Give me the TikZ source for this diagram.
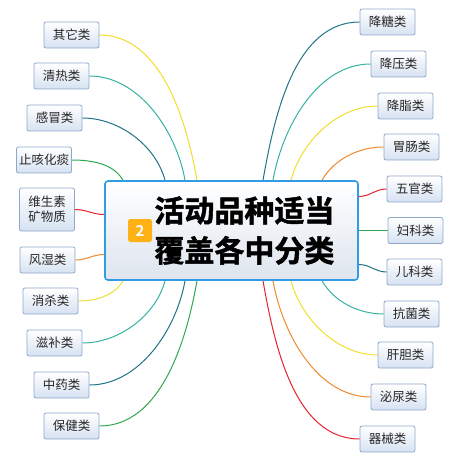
\documentclass[tikz,border=0pt]{standalone}
\usepackage{fontspec}
\usepackage{xcolor}
\usepackage{tikz}
\usetikzlibrary{positioning,calc,backgrounds}
\newfontfamily\cjk{Noto Sans CJK SC}[BoldFont={Noto Sans CJK SC Bold}]
\newfontfamily\cjkheavy{Noto Sans CJK SC Bold}[FakeBold=1.6]
\definecolor{sun}{HTML}{F2DE2E}
\definecolor{aqua}{HTML}{35B3A0}
\definecolor{petrol}{HTML}{1F7488}
\definecolor{leaf}{HTML}{2EA84E}
\definecolor{brick}{HTML}{E5232B}
\definecolor{amber}{HTML}{F0892A}
\definecolor{nodeedge}{HTML}{8EA8CB}
\definecolor{nodefill}{HTML}{D6E2F2}
\definecolor{hubedge}{HTML}{2F9CE4}
\definecolor{hubfill}{HTML}{DEE5EE}
\definecolor{badge}{HTML}{FFB116}

\tikzset{
  cat/.style={draw=nodeedge,line width=0.8pt,rounded corners=2pt,top color=white,bottom color=nodefill,
    minimum width=55pt,minimum height=26pt,inner sep=2pt,align=center,text=black!85,
    font=\cjk\fontsize{12.5}{15}\selectfont},
  hub/.style={draw=hubedge,line width=1.6pt,rounded corners=3pt,top color=white,bottom color=hubfill,
    minimum width=253pt,minimum height=99pt},
  link/.style={line width=1pt}
}

\begin{document}
\begin{tikzpicture}[x=1pt,y=1pt]
\useasboundingbox (0,0) rectangle (453,-462);
% centre topic
\node[hub] (hub) at (231.5,-230.5) {};
\node[fill=badge,rounded corners=2.5pt,minimum width=24pt,minimum height=23pt,inner sep=0pt,
  text=white,font=\cjk\bfseries\fontsize{15}{15}\selectfont] (num) at (140,-230.5) {2};
\node[right=2pt of num,align=left,inner sep=0pt,font=\cjkheavy\fontsize{30}{40}\selectfont] (title)
  {活动品种适当\\覆盖各中分类};

% left branches
\node[cat] (qita)  at (71.5,-35)  {其它类};
\node[cat] (qingre) at (61.5,-76) {清热类};
\node[cat] (ganmao) at (54.5,-118) {感冒类};
\node[cat] (zhike) at (44,-160)   {止咳化痰};
\node[cat,minimum height=43pt] (weisheng) at (47,-209.5) {维生素\\矿物质};
\node[cat] (fengshi) at (47.5,-260) {风湿类};
\node[cat] (xiaosha) at (50.5,-301) {消杀类};
\node[cat] (zibu)  at (54.5,-343) {滋补类};
\node[cat] (zhongyao) at (61.5,-385) {中药类};
\node[cat] (baojian) at (71.5,-426) {保健类};

% right branches
\node[cat] (jiangtang) at (387.5,-22) {降糖类};
\node[cat] (jiangya) at (398.5,-64)  {降压类};
\node[cat] (jiangzhi) at (405.5,-106) {降脂类};
\node[cat] (weichang) at (411.5,-147) {胃肠类};
\node[cat] (wuguan) at (414.5,-189) {五官类};
\node[cat] (fuke)  at (415.5,-230.5) {妇科类};
\node[cat] (erke)  at (414.5,-272) {儿科类};
\node[cat] (kangjun) at (411.5,-314) {抗菌类};
\node[cat] (gandan) at (405.5,-355) {肝胆类};
\node[cat] (miniao) at (398.5,-397) {泌尿类};
\node[cat] (qixie) at (387.5,-439) {器械类};

\begin{scope}[on background layer]
\draw[link,sun]    (qita.east)   to[out=0,in=100,looseness=0.9] ([xshift=-34.5pt]hub.north);
\draw[link,aqua]   (qingre.east) to[out=0,in=100,looseness=0.9] ([xshift=-46.5pt]hub.north);
\draw[link,petrol] (ganmao.east) to[out=0,in=105,looseness=0.9] ([xshift=-66.5pt]hub.north);
\draw[link,leaf]   (zhike.east)  to[out=0,in=120,looseness=0.9] ([xshift=-108.5pt]hub.north);
\draw[link,brick]  (weisheng.east) to[out=0,in=180] ([yshift=16pt]hub.west);
\draw[link,amber]  (fengshi.east) to[out=0,in=180] ([yshift=-24pt]hub.west);
\draw[link,sun]    (xiaosha.east) to[out=0,in=-120,looseness=0.9] ([xshift=-108.5pt]hub.south);
\draw[link,aqua]   (zibu.east)   to[out=0,in=-105,looseness=0.9] ([xshift=-66.5pt]hub.south);
\draw[link,petrol] (zhongyao.east) to[out=0,in=-100,looseness=0.9] ([xshift=-46.5pt]hub.south);
\draw[link,leaf]   (baojian.east) to[out=0,in=-100,looseness=0.9] ([xshift=-34.5pt]hub.south);

\draw[link,petrol] (jiangtang.west) to[out=180,in=80,looseness=0.9] ([xshift=31.5pt]hub.north);
\draw[link,aqua]   (jiangya.west) to[out=180,in=80,looseness=0.9] ([xshift=41.5pt]hub.north);
\draw[link,sun]    (jiangzhi.west) to[out=180,in=75,looseness=0.9] ([xshift=59.5pt]hub.north);
\draw[link,amber]  (weichang.west) to[out=180,in=60,looseness=0.9] ([xshift=90.5pt]hub.north);
\draw[link,brick]  (wuguan.west) to[out=180,in=0] ([yshift=34pt]hub.east);
\draw[link,leaf]   (fuke.west) -- (hub.east |- fuke.west);
\draw[link,petrol] (erke.west) to[out=180,in=0] ([yshift=-34pt]hub.east);
\draw[link,aqua]   (kangjun.west) to[out=180,in=-60,looseness=0.9] ([xshift=90.5pt]hub.south);
\draw[link,sun]    (gandan.west) to[out=180,in=-75,looseness=0.9] ([xshift=59.5pt]hub.south);
\draw[link,amber]  (miniao.west) to[out=180,in=-80,looseness=0.9] ([xshift=41.5pt]hub.south);
\draw[link,brick]  (qixie.west) to[out=180,in=-80,looseness=0.9] ([xshift=31.5pt]hub.south);
\end{scope}
\end{tikzpicture}
\end{document}
